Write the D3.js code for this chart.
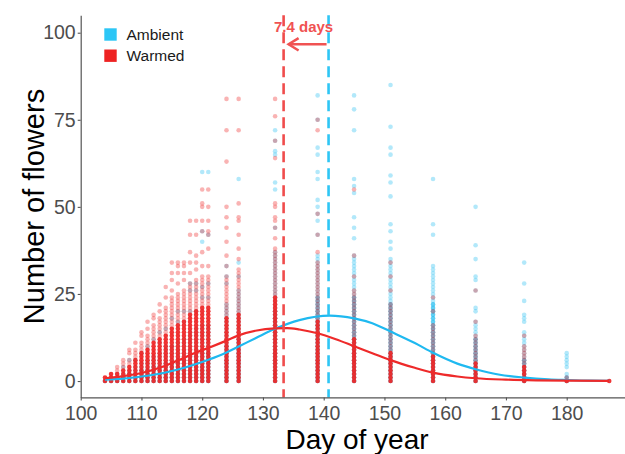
<!DOCTYPE html>
<html><head><meta charset="utf-8">
<script src="https://cdn.jsdelivr.net/npm/d3@7"></script>
<style>body{margin:0;background:#fff}svg{display:block;font-family:"Liberation Sans",Arial,sans-serif}</style>
</head><body><svg id="c" width="625" height="454"></svg>
<script>
// ---- data ----
const days = [104,105,106,107,108,109,110,111,112,113,114,115,116,117,118,119,120,121,124,126,132,139,145,151,158,165,173,180,187];
// warmed: values 0..dense are heavily repeated, dense+1..mid appear once, plus single outliers
const warmedDense = [1,2,2,3,4,6,8,9,11,12,13,15,16,17,19,20,21,21,18,19,24,17,12,8,7,5,4,0,0];
const warmedMid   = [1,2,4,5,6,8,11,13,16,18,21,24,25,26,28,29,30,30,30,32,38,34,26,22,16,13,10,1,0];
const warmedOut = [[],[],[],[6],[8,9],[9,11],[13,14],[15,17],[18,19],[20,22],[24,27],[26,29,31,34],[28,31,33,34],[29,31,33,34],
  [31,34,37,42,46],[32,34,36,42,46],[33,37,43,46,50,51,55],[33,38,42,43,46,50,55],
  [33,36,40,44,47,50,63,72,81],[35,38,42,46,47,51,72,81],[41,44,46,47,50,51,64,69,76,81],[37,42,48,72,75],
  [30,36,55],[26,30,34],[20,24],[17,26],[13],[],[]];
const ambientDense = [0,0,1,1,2,2,3,3,4,4,5,5,6,6,7,7,8,8,10,12,20,24,24,22,22,12,6,1,-1];
const ambientMid   = [0,1,2,2,3,4,5,6,7,8,9,10,11,12,14,15,16,16,22,26,37,36,36,35,33,17,14,2,-1];
const ambientOut = [[],[],[],[4],[6],[6],[8],[10],[12],[11,14],[10,15],[10,18],[17,20],[17,20],
  [20,26,28],[20,26,28],[24,27,40,43,60],[24,28,42,60],[28,30,33],[30,34,58],
  [44,55,57,65,66,69,72],[42,46,48,50,52,58,60,65,67,75,82],[41,44,47,54,56,58,72,78,82],
  [38,40,43,45,53,57,59,65,67,73,85],[42,45,58],[20,21,26,29,30,35,39,50],[17,18,19,23,28,34],[4,5,6,7,8],[]];
// fitted curves
const ambientCurveDays = [104,107,110,113,116,119,121,124,126,129,132,136,141,145,148,151,155,158,162,165,169,173,177,180,184,187];
const ambientCurve     = [0.4,0.7,1.3,2.1,3.3,4.9,6.1,8.2,9.9,12.5,15.0,17.5,18.8,18.0,16.6,14.2,10.9,8.1,5.0,3.4,1.8,1.0,0.5,0.3,0.1,0.05];
const warmedCurveDays  = [104,107,110,113,116,119,121,124,126,129,132,134,136,139,142,145,148,151,155,158,162,165,170,175,180,187];
const warmedCurve      = [0.8,1.4,2.3,3.8,5.9,8.2,9.5,11.6,13.1,14.5,15.1,15.2,14.8,13.7,12.0,10.0,8.0,6.0,3.8,2.4,1.3,0.8,0.4,0.2,0.1,0.05];
const meanDays = {Warmed:133.4, Ambient:140.8};
const shiftLabel = "7.4 days";
const yTicks = [0,25,50,75,100];
const xTicks = [100,110,120,130,140,150,160,170,180];
const groups = ["Ambient","Warmed"];
const colors = {Ambient:"#22bdf0", Warmed:"#ee2424"};

// ---- chart ----
const svg = d3.select("#c");
const x = d3.scaleLinear().domain([100,190]).range([80.7, 627.45]);
const y = d3.scaleLinear().domain([-4.7,105]).range([397.4, 15.3]);

function build(dense, mid, out, mult){
  const pts=[];
  days.forEach((d,i)=>{
    for(let v=0; v<=dense[i]; v++) pts.push({d, v, m:mult});
    for(let v=dense[i]+1; v<=mid[i]; v++) pts.push({d, v, m:1});
    out[i].forEach(v=>pts.push({d, v, m:1}));
  });
  return pts;
}
const a = 0.35;
const layers = [
  {g:"Ambient", pts: build(ambientDense, ambientMid, ambientOut, 3)},
  {g:"Warmed", pts: build(warmedDense, warmedMid, warmedOut, 6)}
];
const plot = svg.append("g");
layers.forEach(L=>{
  plot.append("g").selectAll("circle").data(L.pts).join("circle")
    .attr("cx", p=>x(p.d)).attr("cy", p=>y(p.v)).attr("r", 2.3)
    .attr("fill", colors[L.g]).attr("fill-opacity", p=>1-Math.pow(1-a, p.m));
});

const line = d3.line().curve(d3.curveMonotoneX).x(p=>x(p[0])).y(p=>y(p[1]));
plot.append("path").attr("d", line(ambientCurveDays.map((d,i)=>[d,ambientCurve[i]])))
  .attr("fill","none").attr("stroke","#1fb9f0").attr("stroke-width",2.2);
plot.append("path").attr("d", line(warmedCurveDays.map((d,i)=>[d,warmedCurve[i]])))
  .attr("fill","none").attr("stroke","#ee2a2a").attr("stroke-width",2.2);

// mean lines
[["Warmed","#f04c4c"],["Ambient","#2ec6f5"]].forEach(([g,c])=>{
  plot.append("line").attr("x1",x(meanDays[g])).attr("x2",x(meanDays[g]))
    .attr("y1",15.3).attr("y2",397.4).attr("stroke",c).attr("stroke-width",2.6)
    .attr("stroke-dasharray","11,6");
});
// arrow + label
const ac = "#f05252";
const ay = 44.3;
plot.append("line").attr("x1",x(meanDays.Ambient)-2).attr("x2",x(meanDays.Warmed)+5)
  .attr("y1",ay).attr("y2",ay).attr("stroke",ac).attr("stroke-width",2.5);
const tip = x(meanDays.Warmed)+5;
plot.append("path").attr("d",`M${tip+10},${ay-6.2}L${tip},${ay}L${tip+10},${ay+6.2}`)
  .attr("fill","none").attr("stroke",ac).attr("stroke-width",2.5).attr("stroke-linejoin","miter");
svg.append("text").attr("x",(x(meanDays.Warmed)+x(meanDays.Ambient))/2-2.5).attr("y",31.7)
  .attr("text-anchor","middle").attr("font-size","15px").attr("font-weight","bold")
  .attr("fill",ac).text(shiftLabel);

// axes
const axCol = "#555";
const yAxis = svg.append("g").attr("transform","translate(80.7,0)")
  .call(d3.axisLeft(y).tickValues(yTicks).tickSize(3).tickSizeOuter(0).tickPadding(2));
const xAxis = svg.append("g").attr("transform","translate(0,397.4)")
  .call(d3.axisBottom(x).tickValues(xTicks).tickSize(3).tickSizeOuter(0).tickPadding(5.5));
[yAxis,xAxis].forEach(g=>{
  g.select(".domain").attr("stroke",axCol).attr("stroke-width",1.2);
  g.selectAll(".tick line").attr("stroke",axCol).attr("stroke-width",1.1);
  g.selectAll(".tick text").attr("fill","#4d4d4d").attr("font-size","19.5px")
    .attr("font-family",'"Liberation Sans",Arial,sans-serif');
});

// titles
svg.append("text").attr("x",357).attr("y",448.5).attr("text-anchor","middle")
  .attr("font-size","28px").attr("fill","#000").text("Day of year");
svg.append("text").attr("transform","translate(44,206.5) rotate(-90)").attr("text-anchor","middle")
  .attr("font-size","29px").attr("fill","#000").text("Number of flowers");

// legend
const lg = svg.append("g");
groups.forEach((g,i)=>{
  lg.append("rect").attr("x",104.3).attr("y",28.3+i*21.2).attr("width",12.4).attr("height",12.4)
    .attr("fill", g==="Ambient" ? "#2cc6f6" : "#ee2222");
  lg.append("text").attr("x",126.5).attr("y",40+i*21.2).attr("font-size","15.5px").attr("fill","#1a1a1a").text(g);
});
</script></body></html>
